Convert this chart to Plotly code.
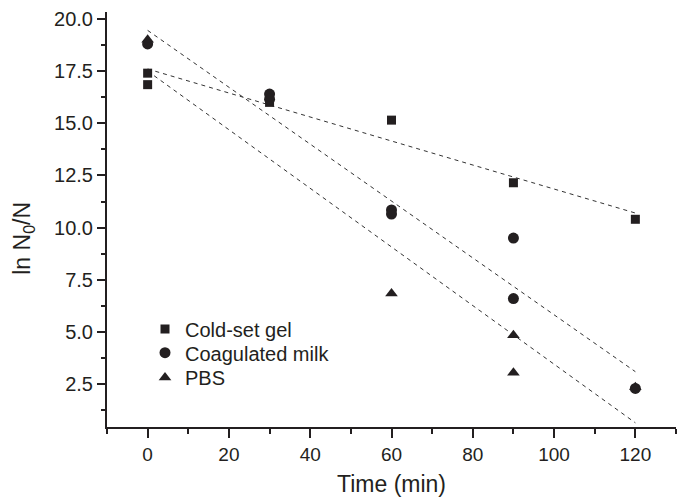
import plotly.graph_objects as go

# ---- data ----
series_names = ["Cold-set gel", "Coagulated milk", "PBS"]
series_symbols = ["square", "circle", "triangle-up"]

gel_time = [0, 0, 30, 60, 90, 120]
gel_ln = [17.4, 16.85, 16.0, 15.15, 12.15, 10.4]

milk_time = [0, 30, 30, 60, 60, 90, 90, 120]
milk_ln = [18.8, 16.4, 16.15, 10.85, 10.65, 9.5, 6.6, 2.3]

pbs_time = [0, 60, 90, 90, 120]
pbs_ln = [19.0, 6.85, 4.85, 3.05, 2.35]

# linear fit lines: values at start / end time
fit_time = [0, 120]
fit_gel = [17.6, 10.7]
fit_milk = [19.45, 3.1]
fit_pbs = [17.5, 0.65]

x_ticks = [0, 20, 40, 60, 80, 100, 120]
y_ticks = [2.5, 5.0, 7.5, 10.0, 12.5, 15.0, 17.5, 20.0]

INK = "#231f20"
FONT = "Liberation Sans, Arial, sans-serif"

fig = go.Figure()

for fy in [fit_gel, fit_milk, fit_pbs]:
    fig.add_trace(go.Scatter(
        x=fit_time, y=fy, mode="lines", showlegend=False, hoverinfo="skip",
        line=dict(color="#333333", width=1, dash="4px,4px")))

marker_sizes = [9, 11, 11]
legend_ids = ["legend", "legend2", "legend3"]
for name, sym, xs, ys, ms, lg in zip(series_names, series_symbols,
                                      [gel_time, milk_time, pbs_time],
                                      [gel_ln, milk_ln, pbs_ln], marker_sizes,
                                      legend_ids):
    fig.add_trace(go.Scatter(
        x=xs, y=ys, mode="markers", name=name, legend=lg,
        marker=dict(symbol=sym, size=ms, color=INK, line=dict(width=0))))

axis_common = dict(
    showline=True, linecolor=INK, linewidth=2,
    ticks="outside", tickwidth=2, tickcolor=INK,
    showgrid=False, zeroline=False, mirror=False,
    ticklabeloverflow="allow",
)

fig.update_xaxes(range=[-10, 130], tickvals=x_ticks, ticklen=9,
                 tickfont=dict(family=FONT, size=19, color=INK),
                 minor=dict(dtick=10, tick0=0, ticks="outside", ticklen=5,
                            tickwidth=2, tickcolor=INK, showgrid=False),
                 **axis_common)
fig.update_yaxes(range=[0.45, 20.33], tickvals=y_ticks, tickformat=".1f",
                 ticklen=8,
                 tickfont=dict(family=FONT, size=20, color=INK),
                 minor=dict(dtick=1.25, tick0=0, ticks="outside", ticklen=4,
                            tickwidth=2, tickcolor=INK, showgrid=False),
                 **axis_common)

fig.add_annotation(text="ln N<sub>0</sub>/N", xref="paper", yref="paper",
                   x=-0.1459, y=0.456, xanchor="center", yanchor="middle",
                   textangle=-90, showarrow=False,
                   font=dict(family=FONT, size=23, color=INK))
fig.add_annotation(text="Time (min)", xref="paper", yref="paper",
                   x=0.5, y=-0.1384, xanchor="center", yanchor="middle",
                   showarrow=False,
                   font=dict(family=FONT, size=23, color=INK))

legend_style = dict(x=0.0668, xanchor="left", yanchor="middle",
                    bgcolor="rgba(0,0,0,0)", borderwidth=0,
                    font=dict(family=FONT, size=20, color=INK))

fig.update_layout(
    width=678, height=492,
    margin=dict(l=99, r=10, t=0, b=73),
    paper_bgcolor="white", plot_bgcolor="white",
    showlegend=True,
    legend=dict(y=0.236, **legend_style),
    legend2=dict(y=0.179, **legend_style),
    legend3=dict(y=0.119, **legend_style),
    font=dict(family=FONT, color=INK),
)

fig.write_html("out.html")
